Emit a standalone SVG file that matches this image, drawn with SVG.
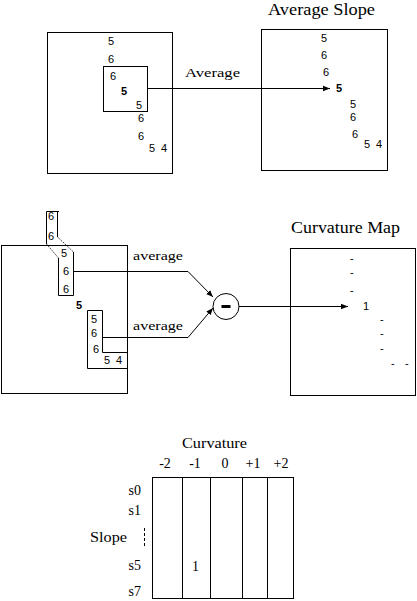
<svg xmlns="http://www.w3.org/2000/svg" width="417" height="601" viewBox="0 0 417 601">
<defs>
<style>
.box{fill:none;stroke:#000;stroke-width:1}
.ln{fill:none;stroke:#000;stroke-width:1}
.dot{fill:none;stroke:#000;stroke-width:0.8;stroke-dasharray:1.5 1}
.n{font-family:"Liberation Sans",Arial,sans-serif;font-size:11px;fill:#000}
.b{font-weight:bold}
.s{font-family:"Liberation Serif","Times New Roman",serif;font-size:13px;fill:#000}
.k{font-family:"Liberation Serif","Times New Roman",serif;font-size:14px;fill:#000}
.t{font-family:"Liberation Serif","Times New Roman",serif;font-size:16px;fill:#000}
</style>
<marker id="ah" viewBox="0 0 10 10" refX="10" refY="5" markerWidth="7" markerHeight="7" markerUnits="userSpaceOnUse" orient="auto">
<path d="M0,1 L10,5 L0,9 z" fill="#000"/>
</marker>
</defs>
<rect width="417" height="601" fill="#fff"/>

<g id="grid-left">
<rect class="box" x="47.5" y="32.5" width="125" height="141"/>
<rect class="box" x="103.5" y="66.5" width="44" height="45"/>
<text class="n" x="108" y="45">5</text>
<text class="n" x="108" y="63">6</text>
<text class="n" x="110" y="80">6</text>
<text class="n b" x="121" y="95">5</text>
<text class="n" x="136" y="109">5</text>
<text class="n" x="138" y="122">6</text>
<text class="n" x="138" y="140">6</text>
<text class="n" x="149" y="152">5</text>
<text class="n" x="161" y="152">4</text>
</g>

<g id="average-slope">
<text class="t" x="268" y="15" textLength="107" lengthAdjust="spacingAndGlyphs">Average Slope</text>
<rect class="box" x="261.5" y="29.5" width="126" height="141"/>
<text class="n" x="321" y="42">5</text>
<text class="n" x="321" y="59">6</text>
<text class="n" x="323" y="76">6</text>
<text class="n b" x="336" y="92">5</text>
<text class="n" x="350" y="108">5</text>
<text class="n" x="350" y="121">6</text>
<text class="n" x="352" y="138">6</text>
<text class="n" x="364" y="148">5</text>
<text class="n" x="376" y="148">4</text>
</g>

<g id="grid-mid">
<rect class="box" x="1.5" y="245.5" width="126" height="148"/>
<path class="ln" d="M46.5,244 V211.5 H59 M57.5,211.5 V237"/>
<path class="ln" d="M58.5,258 V295.5 H73.5 V252"/>
<path class="dot" d="M46.5,244 L58.5,258 M57.5,237 L73.5,252"/>
<text class="n" x="48" y="220">6</text>
<text class="n" x="48" y="240">6</text>
<text class="n" x="61" y="257">5</text>
<text class="n" x="63" y="275">6</text>
<text class="n" x="63" y="293">6</text>
<text class="n b" x="76" y="309">5</text>
<path class="ln" d="M127,352.5 H102.5 V310.5 H87.5 V368.5 H127"/>
<text class="n" x="91" y="323">5</text>
<text class="n" x="91" y="337">6</text>
<text class="n" x="93" y="353">6</text>
<text class="n" x="104" y="364">5</text>
<text class="n" x="116" y="364">4</text>
</g>

<g id="minus-node">
<circle class="box" cx="226" cy="306.5" r="13"/>
<rect x="221.5" y="305" width="9" height="3" fill="#000"/>
</g>

<g id="curvature-map">
<text class="t" x="291" y="233" textLength="109" lengthAdjust="spacingAndGlyphs">Curvature Map</text>
<rect class="box" x="290.5" y="248.5" width="125" height="147"/>
<text class="n" x="350" y="262">-</text>
<text class="n" x="350" y="276">-</text>
<text class="n" x="350" y="294">-</text>
<text class="n" x="363" y="310">1</text>
<text class="n" x="380" y="323">-</text>
<text class="n" x="380" y="337">-</text>
<text class="n" x="380" y="352">-</text>
<text class="n" x="391" y="367">-</text>
<text class="n" x="405" y="367">-</text>
</g>

<g id="table">
<text class="k" x="182" y="448" textLength="65" lengthAdjust="spacingAndGlyphs">Curvature</text>
<text class="k" x="165" y="468" text-anchor="middle">-2</text>
<text class="k" x="195" y="468" text-anchor="middle">-1</text>
<text class="k" x="225" y="468" text-anchor="middle">0</text>
<text class="k" x="253" y="468" text-anchor="middle">+1</text>
<text class="k" x="281" y="468" text-anchor="middle">+2</text>
<rect class="box" x="152.5" y="477.5" width="141" height="121"/>
<path class="ln" d="M182.5,477 V598 M210.5,477 V598 M242.5,477 V598 M267.5,477 V598"/>
<text class="k" x="141" y="495" text-anchor="end">s0</text>
<text class="k" x="141" y="515" text-anchor="end">s1</text>
<path class="ln" d="M144.5,528 V546" stroke-dasharray="3 2"/>
<text class="k" x="90" y="542" textLength="37" lengthAdjust="spacingAndGlyphs">Slope</text>
<text class="k" x="141" y="570" text-anchor="end">s5</text>
<text class="k" x="141" y="596" text-anchor="end">s7</text>
<text class="k" x="192" y="571" font-size="16">1</text>
</g>

<g id="connectors">
<path class="ln" d="M147,88.5 H330" marker-end="url(#ah)"/>
<text class="s" x="185" y="77" textLength="55" lengthAdjust="spacingAndGlyphs">Average</text>
<path class="ln" d="M74,271.5 H188 L213,297" marker-end="url(#ah)"/>
<path class="ln" d="M103,337.5 H188 L213,308" marker-end="url(#ah)"/>
<text class="s" x="133" y="260" textLength="50" lengthAdjust="spacingAndGlyphs">average</text>
<text class="s" x="133" y="330" textLength="50" lengthAdjust="spacingAndGlyphs">average</text>
<path class="ln" d="M239,306.5 H348" marker-end="url(#ah)"/>
</g>
</svg>
